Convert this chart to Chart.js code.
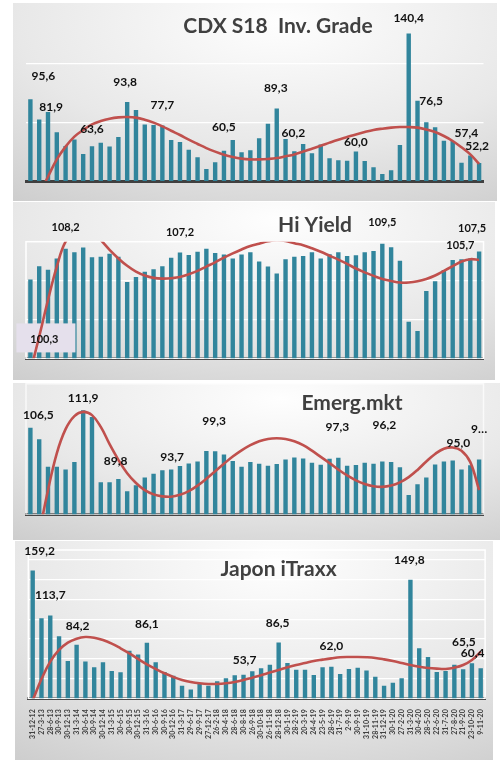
<!DOCTYPE html>
<html>
<head>
<meta charset="utf-8">
<script src="https://cdn.jsdelivr.net/npm/chart.js@4.4.0/dist/chart.umd.min.js"></script>
<style>
  body { margin: 0; background: #fff; width: 502px; height: 760px; position: relative; overflow: hidden; }
  .panel {
    position: absolute;
    background: radial-gradient(120% 140% at 55% 10%, #fefefe 0%, #e8e8e8 45%, #bdbdbd 100%);
  }
  .panel canvas { position: absolute; left: 0; top: 0; }
</style>
</head>
<body>
<div class="panel" style="left:13px;top:3px;width:484px;height:198px"><canvas id="cdx" width="484" height="198"></canvas></div>
<div class="panel" style="left:13px;top:202px;width:482px;height:178px"><canvas id="hy" width="482" height="178"></canvas></div>
<div class="panel" style="left:13px;top:383px;width:487px;height:157px"><canvas id="em" width="487" height="157"></canvas></div>
<div class="panel" style="left:15px;top:541px;width:478px;height:219px"><canvas id="jp" width="478" height="219"></canvas></div>

<script>
// Dates of each observation (x axis, shown on the last panel only)
const dates = ['31-12-12','27-3-13','28-6-13','30-9-13','30-12-13','31-3-14','30-6-14','30-9-14','30-12-14',
  '31-3-15','30-6-15','30-9-15','30-12-15','31-3-16','30-6-16','30-9-16','30-12-16','31-3-17','29-6-17',
  '29-9-17','27-12-17','26-2-18','30-4-18','28-6-18','30-8-18','26-9-18','30-10-18','26-11-18','28-12-18',
  '30-1-19','28-2-19','20-3-19','24-4-19','23-5-19','28-6-19','31-7-19','2-9-19','30-9-19','31-10-19',
  '28-11-19','31-12-19','30-1-20','27-2-20','31-3-20','30-4-20','28-5-20','22-6-20','31-7-20','27-8-20',
  '21-9-20','23-10-20','9-11-20'];

// CDX S18 Inv. Grade
const cdxValues = [95.6,81.9,86.9,73.1,63.8,68.3,58.4,63.6,66.1,63.4,69.9,93.8,88.3,78.5,78.1,77.7,67.9,66.5,
  61.3,56.1,48.2,52.7,60.5,67.9,59.5,60.9,69.0,79.0,89.3,68.6,60.2,65.2,58.8,64.9,55.4,54.1,53.8,60.0,53.6,
  49.3,44.8,47.3,64.5,140.4,94.6,79.9,76.5,67.4,67.2,52.5,57.4,52.2];
const cdxTrend = [20.3,31.2,42.9,54.7,63.4,70.2,74.7,78.5,80.8,82.4,83.3,83.5,83.1,81.7,79.7,77.2,74.2,71.3,
  68.1,65.2,62.4,60.0,57.9,56.3,55.2,54.7,54.7,55.0,55.6,56.8,58.1,60.0,62.0,64.0,66.1,68.1,69.9,71.7,73.3,
  74.7,75.6,76.3,76.7,76.7,76.3,75.1,73.3,70.6,67.2,62.9,58.1,51.6];
const cdxLabelIdx = [0,1,7,11,15,22,28,30,37,43,46,50,51];
const cdxLabelText = ['95,6','81,9','63,6','93,8','77,7','60,5','89,3','60,2','60,0','140,4','76,5','57,4','52,2'];
const cdxGrid = [80,120];

// Hi Yield
const hyValues = [100.3,103.7,102.8,105.7,108.2,107.3,108.5,106.0,106.1,106.9,106.1,99.6,100.9,102.3,102.9,
  103.7,105.9,107.2,106.6,107.4,108.2,107.1,106.7,105.7,106.7,107.3,104.9,103.6,101.8,105.5,106.1,106.3,107.3,
  105.7,106.8,107.3,106.3,106.5,107.3,107.6,109.5,108.6,105.1,89.4,87.0,97.3,99.8,102.7,105.3,105.5,105.7,107.5];
const hyTrend = [76.6,85.6,95.0,103.6,110.0,112.0,113.0,112.5,110.4,107.9,105.7,103.8,102.3,101.3,100.7,100.5,
  100.6,100.9,101.6,102.5,103.6,104.7,105.9,107.0,108.0,108.9,109.5,110.1,110.4,110.2,109.6,109.1,108.3,107.4,
  106.4,105.4,104.3,103.1,102.1,101.2,100.4,99.9,99.5,99.5,99.8,100.4,101.3,102.5,103.7,104.9,105.5,105.3];
const hyLabelIdx = [0,4,17,40,50,51];
const hyLabelText = ['100,3','108,2','107,2','109,5','105,7','107,5'];
const hyGrid = [90,100];

// Emerg.mkt
const emValues = [106.5,103.0,94.6,94.6,93.7,96.0,111.9,109.8,89.8,89.8,90.8,87.1,88.9,91.3,92.4,93.5,93.7,
  94.8,95.6,96.2,99.4,99.3,98.3,96.3,94.6,96.0,95.5,94.9,95.4,96.8,97.4,97.1,95.8,95.2,97.0,97.3,94.9,95.1,
  95.8,95.5,96.2,96.0,94.4,85.9,89.2,91.3,95.3,96.2,96.5,93.7,95.0,96.8];
const emTrend = [60.8,74.2,87.4,98.7,106.1,110.1,111.4,110.4,106.8,101.5,96.7,92.6,89.6,87.4,86.1,85.5,85.4,
  86.0,87.1,88.8,90.9,93.2,95.5,97.7,99.6,101.2,102.4,103.1,103.3,103.1,102.4,101.2,99.5,97.6,95.7,93.7,91.9,
  90.4,89.3,88.6,88.4,88.8,89.8,91.4,93.6,96.2,98.5,100.1,100.5,99.5,96.0,87.4];
const emLabelIdx = [0,6,9,16,21,35,40,50,51];
const emLabelText = ['106,5','111,9','89,8','93,7','99,3','97,3','96,2','95,0','9…'];

// Japon iTraxx
const jpValues = [159.2,110.9,113.7,92.7,67.7,84.2,67.1,61.3,66.4,57.6,56.3,78.2,74.2,86.1,66.4,56.6,52.9,
  42.8,38.8,44.5,42.8,47.2,50.2,53.4,53.7,57.3,60.3,64.0,86.5,65.7,59.0,59.0,53.6,61.3,62.0,54.6,59.7,61.0,
  58.0,51.9,42.8,45.8,50.2,149.8,80.6,71.8,56.6,57.6,64.0,59.3,65.5,60.4];
const jpTrend = [28.0,49.5,67.1,78.9,86.3,90.3,92.0,91.3,89.0,85.3,80.6,75.5,69.8,64.4,59.7,55.3,51.6,48.5,
  46.5,45.2,44.5,44.5,45.2,46.5,48.5,50.9,53.3,56.0,58.6,61.3,63.7,65.7,67.7,69.1,70.4,71.5,71.8,71.8,71.5,
  70.8,69.4,67.7,65.7,63.7,62.0,60.7,60.0,59.7,61.0,63.7,68.8,77.2];
const jpLabelIdx = [0,2,5,13,24,28,34,43,50,51];
const jpLabelText = ['159,2','113,7','84,2','86,1','53,7','86,5','62,0','149,8','65,5','60,4'];
const jpGrid = [50,70,90,110,130,150,170];

// where each data label sits relative to the top of its bar (px)
const cdxLabelShift = [[13,-23],[12,-12],[0,-17],[-2,-20],[0,-20],[0,-24],[-1,-20],[-1,-18],[0,-9],[0,-15],[-4,-26],[-4,-22],[-2,-17]];
const hyLabelShift = [[14,60],[0,-21],[0,-20],[0,-21],[-10,-13],[-7,-23]];
const emLabelShift = [[8,-13],[0,-12],[6,-21],[1,-12],[-1,-30],[-1,-31],[2,-36],[-12,-22],[0,-30]];
const jpLabelShift = [[7,-19],[0,-20],[1,-19],[0,-19],[1,-15],[-1,-19],[0,-21],[-1,-20],[-8,-21],[-8,-15]];

// white frame round the plot area (under the bars) and the panel title
const panelDeco = {
  id: 'panelDeco',
  beforeDatasetsDraw(chart, args, opts) {
    if (!opts.frame) return;
    const ctx = chart.ctx;
    const a = chart.chartArea;
    ctx.save();
    ctx.strokeStyle = opts.frame;
    ctx.lineWidth = 1.5;
    ctx.strokeRect(a.left, a.top, a.right - a.left, a.bottom - a.top);
    ctx.restore();
  },
  afterDatasetsDraw(chart, args, opts) {
    const ctx = chart.ctx;
    ctx.save();
    ctx.font = 'bold 21px Lato, "Open Sans", sans-serif';
    ctx.fillStyle = '#404040';
    ctx.textAlign = 'center';
    ctx.textBaseline = 'alphabetic';
    ctx.fillText(opts.title, opts.tx, opts.ty);
    ctx.restore();
  }
};

// data labels, drawn over bars and trend line
const barLabels = {
  id: 'barLabels',
  beforeDatasetDraw(chart, args, opts) {
    // the "100,3" box sits between the bars and the trend line
    if (args.index !== 0 || !opts.box) return;
    const bars = chart.getDatasetMeta(1).data;
    const k = opts.box.k;
    const bar = bars[opts.idx[k]];
    const cx = bar.x + opts.shift[k][0], cy = bar.y + opts.shift[k][1];
    const ctx = chart.ctx;
    ctx.save();
    ctx.fillStyle = '#E5E0EC';
    ctx.fillRect(cx - 28, cy - 16, 59, 29);
    ctx.restore();
  },
  afterDatasetsDraw(chart, args, opts) {
    const ctx = chart.ctx;
    const bars = chart.getDatasetMeta(1).data;
    ctx.save();
    ctx.font = opts.font;
    ctx.fillStyle = '#111';
    ctx.textAlign = 'center';
    ctx.textBaseline = 'middle';
    opts.idx.forEach((i, k) => {
      ctx.fillText(opts.text[k], bars[i].x + opts.shift[k][0], bars[i].y + opts.shift[k][1]);
    });
    ctx.restore();
  }
};

function makeChart(id, cfg) {
  return new Chart(document.getElementById(id), {
    type: 'bar',
    data: {
      labels: dates,
      datasets: [
        { type: 'line', data: cfg.trend, borderColor: '#C0504D', borderWidth: 2.6,
          pointRadius: 0, tension: 0.4, fill: false },
        { type: 'bar', data: cfg.values, backgroundColor: '#31859C',
          barPercentage: 0.5, categoryPercentage: 1 }
      ]
    },
    options: {
      responsive: false,
      animation: false,
      events: [],
      layout: { padding: cfg.pad },
      plugins: {
        legend: { display: false },
        tooltip: { enabled: false },
        barLabels: { idx: cfg.labelIdx, text: cfg.labelText, shift: cfg.labelShift,
          font: cfg.labelFont, box: cfg.box },
        panelDeco: { title: cfg.title, tx: cfg.tx, ty: cfg.ty, frame: cfg.frame }
      },
      scales: {
        x: {
          z: 1,
          grid: { display: false },
          border: { color: '#404040', width: 3 },
          ticks: cfg.xTicks || { display: false },
          afterFit: s => { s.height = cfg.axisH; }
        },
        y: {
          min: cfg.min, max: cfg.max,
          ticks: { display: false },
          grid: { display: !!cfg.grid, color: '#ffffff', lineWidth: 1.2, drawTicks: false },
          border: { display: false },
          afterBuildTicks: s => { if (cfg.grid) s.ticks = cfg.grid.map(v => ({ value: v })); },
          afterFit: s => { s.width = 0; }
        }
      }
    },
    plugins: [panelDeco, barLabels]
  });
}

makeChart('cdx', {
  values: cdxValues, trend: cdxTrend, min: 40, max: 160, grid: cdxGrid,
  labelIdx: cdxLabelIdx, labelText: cdxLabelText, labelShift: cdxLabelShift,
  labelFont: 'bold 12px Lato, "Open Sans", sans-serif',
  title: 'CDX S18  Inv. Grade', tx: 265, ty: 30.3,
  pad: { left: 13, right: 13.5, top: 1.6, bottom: 20 }, axisH: 0
});

makeChart('hy', {
  values: hyValues, trend: hyTrend, min: 80, max: 110, grid: hyGrid,
  labelIdx: hyLabelIdx, labelText: hyLabelText, labelShift: hyLabelShift,
  labelFont: 'bold 11px Lato, "Open Sans", sans-serif', box: { k: 0 },
  title: 'Hi Yield', tx: 302, ty: 30.3, frame: '#ffffff',
  pad: { left: 13, right: 11.5, top: 39.7, bottom: 21.7 }, axisH: 0
});

makeChart('em', {
  values: emValues, trend: emTrend, min: 80, max: 120, grid: null,
  labelIdx: emLabelIdx, labelText: emLabelText, labelShift: emLabelShift,
  labelFont: 'bold 12px Lato, "Open Sans", sans-serif',
  title: 'Emerg.mkt', tx: 339, ty: 27, frame: 'rgba(255,255,255,0.7)',
  pad: { left: 13, right: 16.5, top: 0.8, bottom: 25.7 }, axisH: 0
});

makeChart('jp', {
  values: jpValues, trend: jpTrend, min: 30, max: 180, grid: jpGrid,
  labelIdx: jpLabelIdx, labelText: jpLabelText, labelShift: jpLabelShift,
  labelFont: 'bold 12px Lato, "Open Sans", sans-serif',
  title: 'Japon iTraxx', tx: 263.5, ty: 34.7, frame: '#ffffff',
  pad: { left: 13.3, right: 7.9, top: 9, bottom: 0 }, axisH: 61.7,
  xTicks: { autoSkip: false, maxRotation: 90, minRotation: 90, padding: 3,
    color: '#404040', font: { size: 7, weight: 'bold', family: 'Lato, "Open Sans", sans-serif' } }
});
</script>
</body>
</html>
